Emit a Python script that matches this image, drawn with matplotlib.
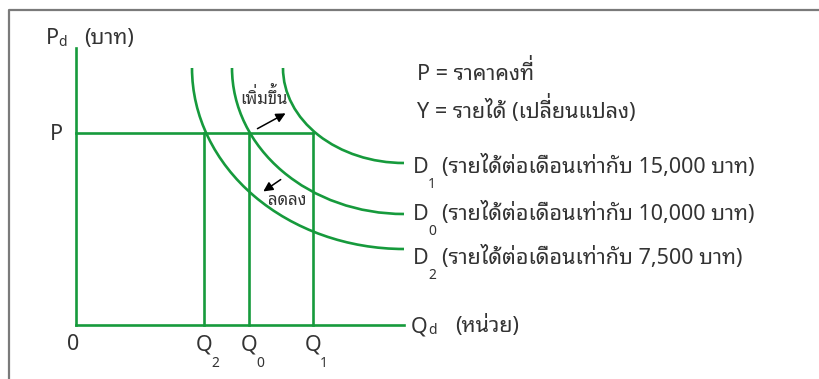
import matplotlib
matplotlib.use('Agg')
import matplotlib.pyplot as plt
import matplotlib.transforms as mtransforms
from matplotlib.patches import Arc, FancyArrowPatch
from matplotlib import font_manager
from matplotlib.ft2font import FT2Font

# ----------------------------------------------------------
# data (units: pixels measured from the origin of the chart)
# ----------------------------------------------------------
q_vals = [128, 173, 237]          # Q2, Q0, Q1
q_subs = ['2', '0', '1']
p_val = 192
y_axis_top = 277
x_axis_end = 328

curve_subs = ['1', '0', '2']
curve_start_x = [207, 156, 116]   # where each curve starts at the top
curve_top = 257
curve_end_y = [162, 111, 76]      # height where each curve reaches the right end
label_y = [152, 105, 61]          # baseline of the curve labels
incomes = ['15,000', '10,000', '7,500']

arrow_up = [(179, 195), (212, 213)]
arrow_down = [(207, 147), (185, 132)]
up_text_pos = (164, 221)
down_text_pos = (192, 120)

GREEN = '#169a3c'
TEXT = '#333333'
BIG = 15.5
SUB = 10


# ----------------------------------------------------------
# look for a font with Thai glyphs
# ----------------------------------------------------------
def find_thai_font():
    found = []
    for p in font_manager.findSystemFonts():
        try:
            cmap = FT2Font(p).get_charmap()
        except Exception:
            continue
        if 0x0E01 in cmap and 0x0E34 in cmap:
            found.append(p)
    if not found:
        return None
    pref = ['NotoSansThai', 'NotoSansThaiUI', 'Loma', 'Garuda', 'Sarabun', 'Kinnari']
    found.sort(key=lambda p: next((i for i, k in enumerate(pref) if k.lower() in p.lower()), 99))
    font_manager.fontManager.addfont(found[0])
    return font_manager.FontProperties(fname=found[0]).get_name()


thai = find_thai_font()
families = ['Noto Sans']
if thai:
    families.append(thai)
families.append('DejaVu Sans')
plt.rcParams['font.family'] = families

# ----------------------------------------------------------
# figure
# ----------------------------------------------------------
fig = plt.figure(figsize=(8.19, 3.79), dpi=100)
ax = fig.add_axes([0, 0, 1, 1])
ax.set_xlim(-76, 743)
ax.set_ylim(-54, 325)
ax.axis('off')
renderer = fig.canvas.get_renderer()

TONES = '\u0e48\u0e49\u0e4a\u0e4b'
UPPER = '\u0e31\u0e34\u0e35\u0e36\u0e37'


def label(x, y, s, size=BIG, ha='left'):
    # no shaping in matplotlib: tone marks on top of an upper vowel are drawn apart, raised
    base = ''
    marks = []
    for ch in s:
        if ch in TONES and base and base[-1] in UPPER:
            marks.append((len(base), ch))
        else:
            base += ch
    t = ax.text(x, y, base, fontsize=size, color=TEXT, ha=ha, va='baseline')
    for n, ch in marks:
        probe = ax.text(x, y, base[:n], fontsize=size, ha='left', va='baseline')
        if ha != 'left':
            x0 = t.get_window_extent(renderer).x0
            probe.set_x(ax.transData.inverted().transform((x0, 0))[0])
        right = probe.get_window_extent(renderer).x1
        probe.remove()
        xd = ax.transData.inverted().transform((right, 0))[0]
        tr = mtransforms.offset_copy(ax.transData, fig=fig, x=-0.02 * size,
                                     y=0.3 * size, units='points')
        # a no-break space carries the mark so the text has a width
        ax.text(xd, y, '\u00a0' + ch, fontsize=size, color=TEXT, ha='right',
                va='baseline', transform=tr)
    return t


# grey frame (top and left)
ax.plot([9 / 819, 9 / 819, 1], [0, 1 - 10 / 379, 1 - 10 / 379],
        transform=ax.transAxes, color='#7a7a7a', lw=1.6, clip_on=False)

# axes
ax.plot([0, 0], [0, y_axis_top], color=GREEN, lw=1.9)
ax.plot([0, x_axis_end], [0, 0], color=GREEN, lw=1.9)

# price line and quantities
ax.plot([0, max(q_vals)], [p_val, p_val], color=GREEN, lw=1.9)
for q in q_vals:
    ax.plot([q, q], [0, p_val], color=GREEN, lw=1.9)

# demand curves
for sx, ey in zip(curve_start_x, curve_end_y):
    arc = Arc((x_axis_end, curve_top), 2 * (x_axis_end - sx), 2 * (curve_top - ey),
              theta1=180, theta2=270, color=GREEN, lw=1.9)
    ax.add_patch(arc)

# shift arrows
for a in (arrow_up, arrow_down):
    ax.add_patch(FancyArrowPatch(a[0], a[1], arrowstyle='-|>', color='black',
                                 lw=1.1, mutation_scale=14))
label(*up_text_pos, 'เพิ่มขึ้น', size=12)
label(*down_text_pos, 'ลดลง', size=12)

# axis labels
label(-30, 281, 'P')
label(-18, 279, 'd', size=SUB)
label(8, 281, '(บาท)')

label(335, -7, 'Q')
label(352, -9, 'd', size=SUB)
label(379, -7, '(หน่วย)')

label(-13, 185, 'P', ha='right')
label(-3, -25, '0', ha='center')

for q, s in zip(q_vals, q_subs):
    label(q, -25, 'Q', ha='center')
    label(q + 11, -42, s, size=SUB, ha='center')

# curve labels
for s, ly, inc in zip(curve_subs, label_y, incomes):
    label(337, ly, 'D')
    label(356, ly - 15, s, size=SUB, ha='center')
    label(366, ly, '(รายได้ต่อเดือนเท่ากับ ' + inc + ' บาท)')

# notes
label(341, 245, 'P = ราคาคงที่')
label(341, 207, 'Y = รายได้ (เปลี่ยนแปลง)')

fig.savefig('out.png', dpi=100)
